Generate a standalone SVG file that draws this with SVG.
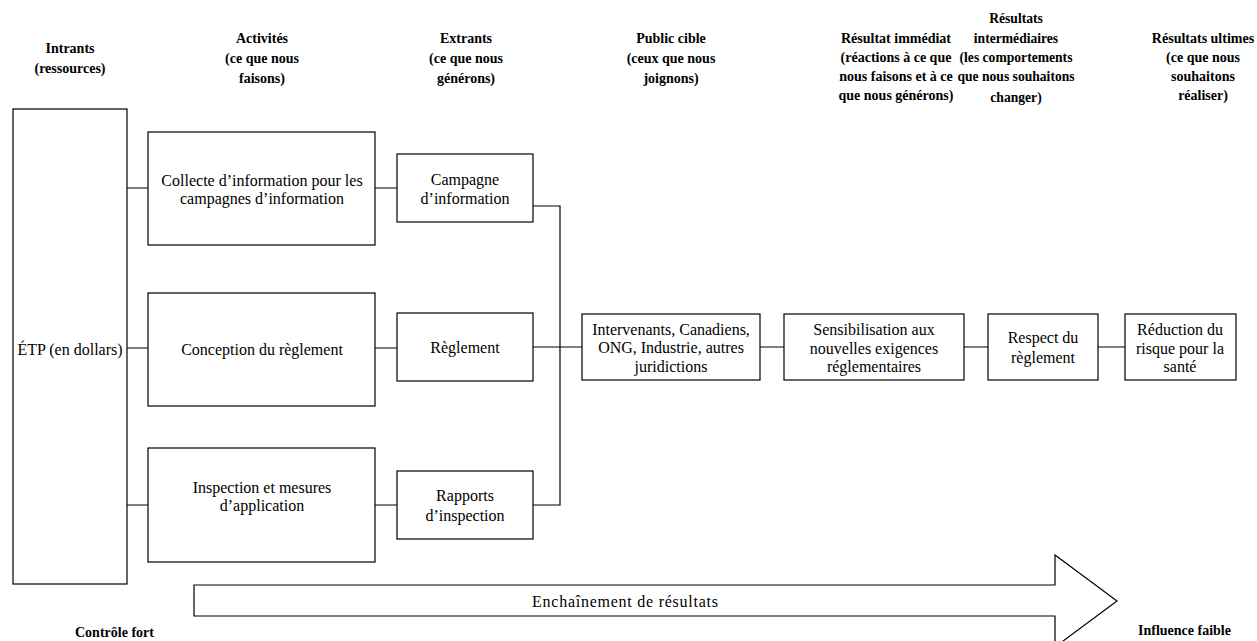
<svg xmlns="http://www.w3.org/2000/svg" width="1257" height="641" viewBox="0 0 1257 641">
<style>
.box{fill:#fff;stroke:#000;stroke-width:1.2}
.ln{fill:none;stroke:#000;stroke-width:1.2}
text{font-family:"Liberation Serif","Times New Roman",serif;font-size:16px;fill:#000;text-anchor:middle}
.h{font-weight:bold;font-size:14px}
.hs{font-size:13.6px}
</style>
<rect width="1257" height="641" fill="#fff"/>
<g id="headers">
<text class="h" x="70" y="53">Intrants</text>
<text class="h" x="70" y="73">(ressources)</text>
<text class="h" x="262" y="43">Activités</text>
<text class="h" x="262" y="63">(ce que nous</text>
<text class="h" x="262" y="83">faisons)</text>
<text class="h" x="466" y="43">Extrants</text>
<text class="h" x="466" y="63">(ce que nous</text>
<text class="h" x="466" y="83">générons)</text>
<text class="h" x="671" y="43">Public cible</text>
<text class="h" x="671" y="63">(ceux que nous</text>
<text class="h" x="671" y="83">joignons)</text>
<text class="h" x="896" y="43">Résultat immédiat</text>
<text class="h" x="896" y="62">(réactions à ce que</text>
<text class="h" x="896" y="81">nous faisons et à ce</text>
<text class="h" x="896" y="100">que nous générons)</text>
<text class="h hs" x="1016" y="23">Résultats</text>
<text class="h hs" x="1016" y="43">intermédiaires</text>
<text class="h hs" x="1016" y="62">(les comportements</text>
<text class="h hs" x="1016" y="81">que nous souhaitons</text>
<text class="h hs" x="1016" y="102">changer)</text>
<text class="h" x="1203" y="43">Résultats ultimes</text>
<text class="h" x="1203" y="62">(ce que nous</text>
<text class="h" x="1203" y="81">souhaitons</text>
<text class="h" x="1203" y="100">réaliser)</text>
</g>
<g id="connectors">
<path class="ln" d="M127 188H148M127 348H148M127 505H148"/>
<path class="ln" d="M375 188H397M375 348H397M375 505H397"/>
<path class="ln" d="M533 206H560V505H533M533 347H582"/>
<path class="ln" d="M760 347H784M964 347H988M1098 347H1125"/>
</g>
<g id="etp"><rect class="box" x="13" y="109" width="114" height="475"/><text x="70" y="355">ÉTP (en dollars)</text></g>
<g id="act1"><rect class="box" x="148" y="132" width="227" height="113"/><text x="262" y="186">Collecte d’information pour les</text><text x="262" y="204">campagnes d’information</text></g>
<g id="act2"><rect class="box" x="148" y="293" width="227" height="113"/><text x="262" y="355">Conception du règlement</text></g>
<g id="act3"><rect class="box" x="148" y="448" width="227" height="114"/><text x="262" y="493">Inspection et mesures</text><text x="262" y="511">d’application</text></g>
<g id="out1"><rect class="box" x="397" y="154" width="136" height="68"/><text x="465" y="185">Campagne</text><text x="465" y="204">d’information</text></g>
<g id="out2"><rect class="box" x="397" y="313" width="136" height="68"/><text x="465" y="353">Règlement</text></g>
<g id="out3"><rect class="box" x="397" y="471" width="136" height="68"/><text x="465" y="501">Rapports</text><text x="465" y="521">d’inspection</text></g>
<g id="public"><rect class="box" x="582" y="314" width="178" height="66"/><text x="671" y="335">Intervenants, Canadiens,</text><text x="671" y="353">ONG, Industrie, autres</text><text x="671" y="372">juridictions</text></g>
<g id="sens"><rect class="box" x="784" y="314" width="180" height="66"/><text x="874" y="335">Sensibilisation aux</text><text x="874" y="354">nouvelles exigences</text><text x="874" y="372">réglementaires</text></g>
<g id="respect"><rect class="box" x="988" y="314" width="110" height="66"/><text x="1043" y="343">Respect du</text><text x="1043" y="363">règlement</text></g>
<g id="reduction"><rect class="box" x="1125" y="314" width="111" height="66"/><text x="1180" y="335">Réduction du</text><text x="1180" y="354">risque pour la</text><text x="1180" y="372">santé</text></g>
<g id="arrow"><path class="box" d="M194 585H1055V555L1117 601L1055 647V616H194Z"/><text x="625" y="607" textLength="186">Enchaînement de résultats</text></g>
<text class="h" x="75" y="637" style="text-anchor:start">Contrôle fort</text>
<text class="h" x="1138" y="635" style="text-anchor:start">Influence faible</text>
</svg>
